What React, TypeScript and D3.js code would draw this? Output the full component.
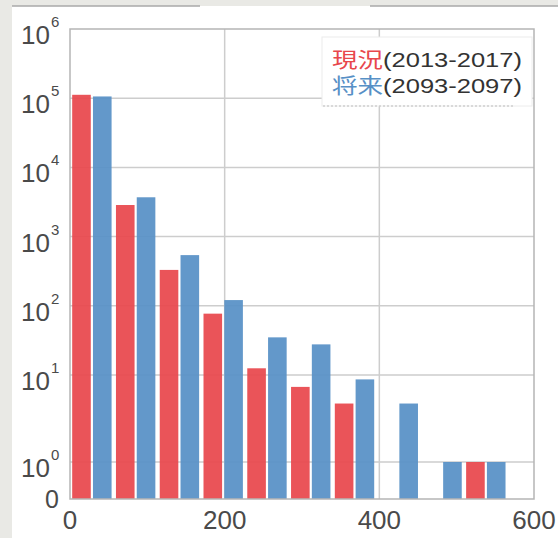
import React from "react";
import * as d3 from "d3";

// ---- data ----
const binStarts = [0, 56.6, 113.2, 169.8, 226.4, 283.0, 339.6, 396.2, 452.8, 509.4];
const binWidth = 56.6;
const currentCounts = [112000, 2860, 330, 77, 12.5, 7.3, 4.7, 0, 0, 1]; // 現況(2013-2017)
const futureCounts = [106000, 3700, 540, 121, 35, 27.7, 8.9, 4.7, 1, 1]; // 将来(2093-2097)
const xTicks = [0, 200, 400, 600];
const yTicks = [0, 1, 10, 100, 1000, 10000, 100000, 1000000];
const yTickExponents = ["", "0", "1", "2", "3", "4", "5", "6"];
const legendNames = ["現況", "将来"];
const legendPeriods = ["(2013-2017)", "(2093-2097)"];

const W = 558;
const H = 538;
const RED = "#e8474c";
const BLUE = "#5790c6";
const NUM_FONT = "'Liberation Sans', Arial, Helvetica, sans-serif";
const CJK_FONT = "'Noto Sans CJK JP', 'Noto Sans', sans-serif";

// y axis: 0 handled linearly below 1, log above
const tr = (v: number) => (v >= 1 ? Math.log10(v) : v - 1);

export default function App() {
  const x = d3.scaleLinear().domain([0, 600]).range([70, 534]);
  const yT = d3.scaleLinear().domain([-1, 0, 1, 6]).range([499, 462, 375, 29]);
  const y = (v: number) => yT(tr(v));
  const left = x(0), right = x(600), top = y(1e6), bottom = y(0);

  const bars: { x0: number; x1: number; v: number; c: string }[] = [];
  binStarts.forEach((b, i) => {
    if (currentCounts[i] > 0)
      bars.push({ x0: b + 0.05 * binWidth, x1: b + 0.475 * binWidth, v: currentCounts[i], c: RED });
    if (futureCounts[i] > 0)
      bars.push({ x0: b + 0.525 * binWidth, x1: b + 0.95 * binWidth, v: futureCounts[i], c: BLUE });
  });

  return (
    <svg width={W} height={H} style={{ position: "absolute", left: 0, top: 0, display: "block" }}>
      <rect x={0} y={0} width={W} height={H} fill="#e9e9e5" />
      <rect x={12} y={6} width={W - 12} height={H - 6} fill="#ffffff" />
      <line x1={12} x2={200} y1={6} y2={6} stroke="#a8a8a8" strokeWidth={1.5} />
      <line x1={370} x2={W} y1={6} y2={6} stroke="#a8a8a8" strokeWidth={1.5} />

      {/* gridlines */}
      {yTicks.filter((v) => v >= 1 && v < 1e6).map((v) => (
        <line key={"gy" + v} x1={left} x2={right} y1={y(v)} y2={y(v)} stroke="#cdcdcd" strokeWidth={1.5} />
      ))}
      {xTicks.filter((v) => v > 0 && v < 600).map((v) => (
        <line key={"gx" + v} x1={x(v)} x2={x(v)} y1={top} y2={bottom} stroke="#cdcdcd" strokeWidth={1.5} />
      ))}

      {/* bars */}
      {bars.map((b, i) => (
        <rect key={i} x={x(b.x0)} y={y(b.v)} width={x(b.x1) - x(b.x0)} height={bottom - y(b.v)} fill={b.c} fillOpacity={0.93} />
      ))}

      {/* frame */}
      <rect x={left} y={top} width={right - left} height={bottom - top} fill="none" stroke="#b5b5b5" strokeWidth={1.5} />

      {/* legend */}
      <rect x={322} y={37} width={210} height={69} fill="#ffffff" stroke="#ececec" strokeWidth={1} />
      <line x1={323} x2={514} y1={106} y2={106} stroke="#bdbdbd" strokeWidth={1} strokeDasharray="2,2" />
      {legendNames.map((n, i) => (
        <text key={"lg" + i} x={332} y={67 + i * 26} fontSize={21} fill="#333333"
          textLength={190} lengthAdjust="spacingAndGlyphs">
          <tspan fontFamily={CJK_FONT} fill={i === 0 ? RED : BLUE}>{n}</tspan>
          <tspan fontFamily={NUM_FONT}>{legendPeriods[i]}</tspan>
        </text>
      ))}

      {/* x tick labels */}
      {xTicks.map((v) => (
        <text key={"xt" + v} x={x(v)} y={529} textAnchor="middle" fontFamily={NUM_FONT} fontSize={26} fill="#4a4a4a">
          {v}
        </text>
      ))}

      {/* y tick labels */}
      {yTicks.map((v, i) =>
        v === 0 ? (
          <text key={"yt" + v} x={59} y={y(v) + 9} textAnchor="end" fontFamily={NUM_FONT} fontSize={25} fill="#4a4a4a">0</text>
        ) : (
          <g key={"yt" + v}>
            <text x={50} y={y(v) + 15} textAnchor="end" fontFamily={NUM_FONT} fontSize={26} fill="#4a4a4a">10</text>
            <text x={51} y={y(v) - 2} textAnchor="start" fontFamily={NUM_FONT} fontSize={15} fill="#4a4a4a">{yTickExponents[i]}</text>
          </g>
        )
      )}
    </svg>
  );
}
